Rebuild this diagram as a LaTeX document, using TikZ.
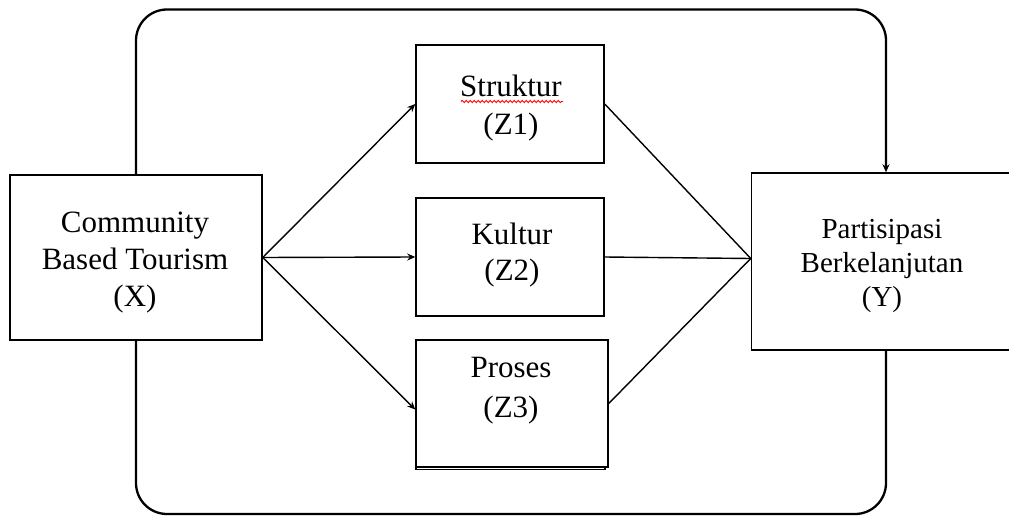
\documentclass[tikz,border=0pt]{standalone}
\usepackage{fontspec}
\setmainfont{Liberation Serif}
\usetikzlibrary{arrows.meta,decorations.pathmorphing,calc}
\begin{document}
\begin{tikzpicture}[x=1pt,y=-1pt,
  box/.style={draw=black, line width=1.5pt, fill=white, inner sep=0pt},
  lbl/.style={align=center, inner sep=0pt, font=\fontsize{31}{37}\selectfont},
  conn/.style={draw=black, line width=1.4pt},
  arr/.style={conn, -{Stealth[length=8pt,width=7pt]}},
  outer/.style={draw=black, line width=2.3pt, rounded corners=31pt}]
\useasboundingbox (0,0) rectangle (1009,516);
% boxes
\node[box, minimum width=252pt, minimum height=165pt] (xb) at (136,257.5) {};
\node[box, minimum width=188pt, minimum height=118pt] (sb) at (510,104) {};
\node[box, minimum width=188pt, minimum height=118pt] (kb) at (510,257) {};
\node[box, minimum width=189pt, minimum height=127pt] (ps) at (510.5,406) {};
\node[box, minimum width=192pt, minimum height=127pt] (pb) at (512,403.5) {};
\node[box, minimum width=262pt, minimum height=177pt] (yb) at (882.5,261.5) {};
% outer loop
\coordinate (rt) at (886,9.5);
\coordinate (rb) at (886,514);
\draw[outer, -{Stealth[length=8pt,width=7pt]}] (xb.north) |- (rt) -- (rt |- yb.north);
\draw[outer] (xb.south) |- (rb) -- (rb |- yb.south);
% arrows
\draw[arr] (xb.east) -- (sb.west);
\draw[arr] (xb.east) -- (kb.west);
\draw[arr] (xb.east) -- ([yshift=-6pt]pb.west);
\draw[conn] (sb.east) -- ([yshift=3pt]yb.west);
\draw[conn] (kb.east) -- ([yshift=3pt]yb.west);
\draw[conn] (pb.east) -- ([yshift=3pt]yb.west);
% labels
\node[lbl] (xt) at (135,262.5) {Community\\Based Tourism\\(X)};
\node[lbl, font=\fontsize{31}{38}\selectfont] (st) at (511,108) {Struktur\\(Z1)};
\node[lbl, font=\fontsize{31}{36}\selectfont] (kt) at (512,255) {Kultur\\(Z2)};
\node[lbl, font=\fontsize{31}{40}\selectfont] (pt) at (511,391) {Proses\\(Z3)};
\node[lbl, font=\fontsize{29}{34}\selectfont] (yt) at (882,266) {Partisipasi\\Berkelanjutan\\(Y)};
% spelling squiggle
\draw[red, line width=0.9pt, decorate, decoration={snake, segment length=4pt, amplitude=1.1pt}] (461,101.5) -- (563,101.5);
\end{tikzpicture}
\end{document}
